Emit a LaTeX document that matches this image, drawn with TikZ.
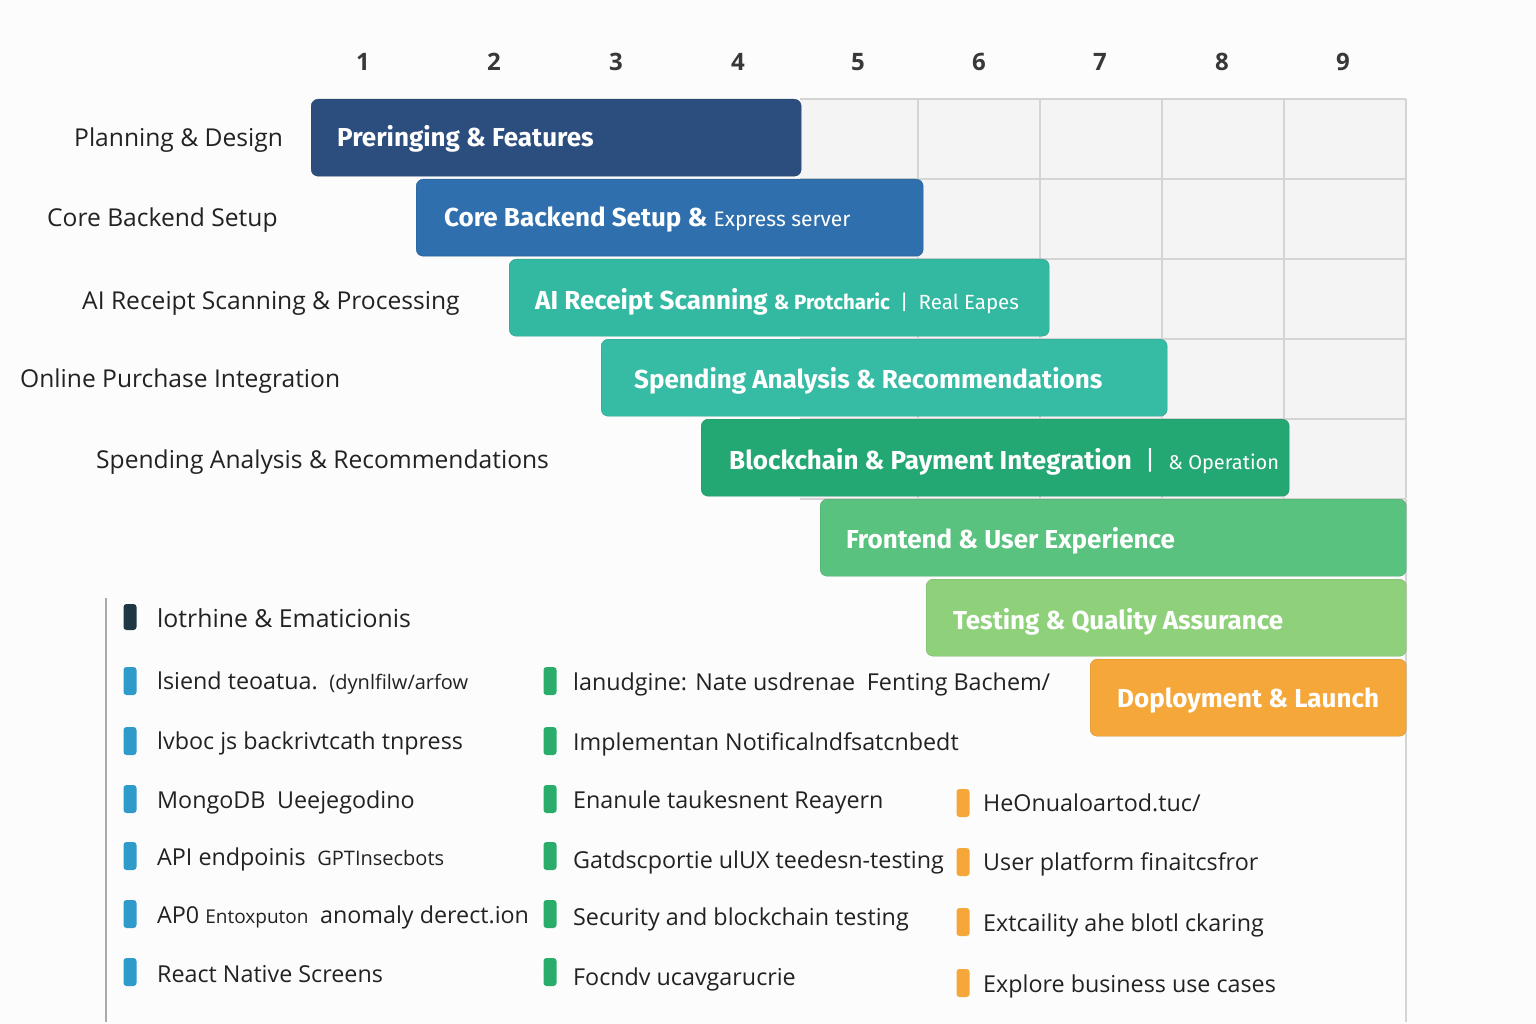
\documentclass[tikz,border=0pt]{standalone}
\usepackage{fontspec}
\setmainfont{Open Sans}
\newfontfamily\barfont{Fira Sans}
\usetikzlibrary{positioning}

\definecolor{pagebg}{HTML}{FCFCFC}
\definecolor{gridbg}{HTML}{F4F4F4}
\definecolor{gridln}{HTML}{D4D4D4}
\definecolor{ink}{HTML}{222222}
\definecolor{navy}{HTML}{2C4E7E}
\definecolor{steel}{HTML}{2F6FAD}
\definecolor{tealA}{HTML}{33B9A2}
\definecolor{tealB}{HTML}{36BBA5}
\definecolor{greenA}{HTML}{24A873}
\definecolor{greenB}{HTML}{58C27E}
\definecolor{greenC}{HTML}{8ED17A}
\definecolor{amber}{HTML}{F6A73A}
\definecolor{legdark}{HTML}{1F3644}
\definecolor{legblue}{HTML}{2E9BCB}
\definecolor{leggreen}{HTML}{2AAD6A}

\begin{document}
\begin{tikzpicture}[x=1pt, y=-1pt,
    bar/.style={draw=#1!85!black, fill=#1, rounded corners=7pt, minimum height=77pt, anchor=north west, inner sep=0pt},
    bartext/.style={anchor=west, text=white, inner sep=0pt, text height=18pt, text depth=0pt, font=\barfont\bfseries\fontsize{26}{30}\selectfont},
    rowlabel/.style={anchor=west, text=ink, inner sep=0pt, text height=18pt, text depth=0pt, font=\fontsize{24.6}{28}\selectfont},
    colnum/.style={text=ink!90, font=\bfseries\fontsize{24}{28}\selectfont},
    marker/.style={fill=#1, rounded corners=3pt, minimum width=13pt, minimum height=28pt, inner sep=0pt},
    item/.style={anchor=west, text=ink, inner sep=0pt, text height=17pt, text depth=0pt, font=\fontsize{23.3}{26}\selectfont},
    gridline/.style={draw=gridln, line width=1.2pt}
]
    \fill[pagebg] (0,0) rectangle (1536,1024);
    \useasboundingbox (0,0) rectangle (1536,1024);

    \fill[gridbg] (800,99) rectangle (1406,498);
    \foreach \x in {918,1040,...,1406}
        \draw[gridline] (\x,99) -- (\x,498);
    \foreach \y in {99,179,...,499}
        \draw[gridline] (800,\y) -- (1406,\y);
    \draw[gridline] (1406,499) -- (1406,1022);
    \draw[draw=gridln!80!black, line width=1.2pt] (106,598) -- (106,1022);

    \foreach \cx [count=\n] in {363,494,616,738,858,979,1100,1222,1343}
        \node[colnum] (num\n) at (\cx,62) {\n};

    \node[rowlabel] (lplan) at (74,138) {Planning \& Design};
    \node[rowlabel] (lcore) at (47,218) {Core Backend Setup};
    \node[rowlabel] (lscan) at (82,300) {AI Receipt Scanning \& Processing};
    \node[rowlabel] (lshop) at (20,378) {Online Purchase Integration};
    \node[rowlabel] (lspend) at (96,459) {Spending Analysis \& Recommendations};

    \node[bar=navy, minimum width=490pt] (bplan) at (311,99) {};
    \node[bar=steel, minimum width=507pt] (bcore) at (416,179) {};
    \node[bar=tealA, minimum width=540pt] (bscan) at (509,259) {};
    \node[bar=tealB, minimum width=566pt] (bspend) at (601,339) {};
    \node[bar=greenA, minimum width=588pt] (bchain) at (701,419) {};
    \node[bar=greenB, minimum width=586pt] (bfront) at (820,499) {};
    \node[bar=greenC, minimum width=480pt] (btest) at (926,579) {};
    \node[bar=amber, minimum width=316pt] (bship) at (1090,659) {};

    \node[bartext] (tplan) at (337,138) {Preringing \& Features};
    \node[bartext] (tcore) at (444,218) {Core Backend Setup \&\ {\mdseries\fontsize{21}{24}\selectfont Express server}};
    \node[bartext] (tscan) at (535,300) {AI Receipt Scanning {\fontsize{20.5}{24}\selectfont\& Protcharic\enspace{\mdseries|\enspace Real Eapes}}};
    \node[bartext] (tspend) at (634,379) {Spending Analysis \& Recommendations};
    \node[bartext] (tchain) at (729,460) {Blockchain \& Payment Integration\enspace{\mdseries|\enspace\fontsize{20}{24}\selectfont\& Operation}};
    \node[bartext] (tfront) at (846,539) {Frontend \& User Experience};
    \node[bartext] (ttest) at (953,620) {Testing \& Quality Assurance};
    \node[bartext] (tship) at (1117,698) {Doployment \& Launch};

    \node[marker=legdark, minimum height=26pt] (mhead) at (130,617) {};
    \node[item, font=\fontsize{24.8}{28}\selectfont, text height=18pt] (ihead) at (157,618) {lotrhine \& Ematicionis};

    \foreach \y [count=\i] in {681,741,799,856,914,972} {
        \node[marker=legblue] (mb\i) at (130,\y) {};
        \node[marker=leggreen] (mg\i) at (550,\y) {};
    }
    \foreach \y [count=\i] in {803,862,922,983}
        \node[marker=amber] (mo\i) at (963,\y) {};

    \node[item] (ib1) at (157,681) {lsiend teoatua.\enspace{\fontsize{20}{22}\selectfont(dynlfilw/arfow}};
    \node[item] (ib2) at (157,741) {lvboc js backrivtcath tnpress};
    \node[item] (ib3) at (157,800) {MongoDB\enspace Ueejegodino};
    \node[item] (ib4) at (157,857) {API endpoinis\enspace{\fontsize{20}{22}\selectfont GPTInsecbots}};
    \node[item] (ib5) at (157,915) {AP0 {\fontsize{19}{22}\selectfont Entoxputon}\enspace anomaly derect.ion};
    \node[item] (ib6) at (157,974) {React Native Screens};

    \node[item] (ig1) at (573,682) {lanudgine: Nate usdrenae\enspace Fenting Bachem/};
    \node[item] (ig2) at (573,742) {Implementan Notificalndfsatcnbedt};
    \node[item] (ig3) at (573,800) {Enanule taukesnent Reayern};
    \node[item] (ig4) at (573,860) {Gatdscportie ulUX teedesn-testing};
    \node[item] (ig5) at (573,917) {Security and blockchain testing};
    \node[item] (ig6) at (573,977) {Focndv ucavgarucrie};

    \node[item] (io1) at (983,803) {HeOnualoartod.tuc/};
    \node[item] (io2) at (983,862) {User platform finaitcsfror};
    \node[item] (io3) at (983,923) {Extcaility ahe blotl ckaring};
    \node[item] (io4) at (983,984) {Explore business use cases};
\end{tikzpicture}
\end{document}
